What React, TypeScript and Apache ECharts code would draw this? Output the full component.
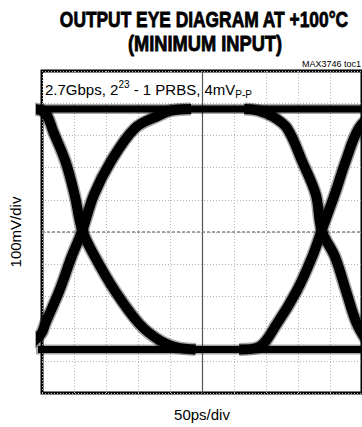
import React, { useEffect, useRef } from "react";
import * as echarts from "echarts";

// ---- texts ----
const TITLE_LINES = ["OUTPUT EYE DIAGRAM AT +100°C", "(MINIMUM INPUT)"];
const TOC_LABEL = "MAX3746 toc1";
const X_AXIS_NAME = "50ps/div";
const Y_AXIS_NAME = "100mV/div";
const CONDITION_MAIN = ["2.7Gbps, 2", " - 1 PRBS, 4mV"];
const CONDITION_SUP = "23";
const CONDITION_SUB = "P-P";

// ---- axes (ps horizontally, mV vertically) ----
const X_RANGE = [0, 500];
const X_DIV = 50;
const Y_RANGE = [-500, 500];
const Y_DIV = 100;
const CENTER_X = 250;
const CENTER_Y = 0;

// ---- eye traces: [ps, mV] ----
const topRail = [[-20, 382], [520, 382]];
const bottomRail = [[-20, -365], [520, -365]];

const fallLeft = [
  [-17, 383], [-1, 377], [8, 362], [17, 315], [37, 217], [51, 115], [63, 5],
  [83, -78], [114, -183], [152, -285], [184, -337], [210, -358], [240, -365],
];
const riseLeft = [
  [-17, -346], [-1, -315], [5, -285], [27, -183], [46, -78], [63, 5],
  [81, 115], [107, 217], [145, 322], [183, 362], [202, 377], [233, 382],
];
const fallRight = [
  [316, 382], [338, 377], [361, 358], [383, 322], [407, 217], [428, 115],
  [437, 5], [458, -78], [475, -183], [492, -285], [510, -346],
];
const riseRight = [
  [308, -365], [338, -358], [367, -285], [398, -183], [422, -78], [437, 5],
  [457, 115], [474, 217], [495, 322], [520, 371],
];

const SANS = "'Liberation Sans', Arial, sans-serif";

export default function App() {
  const ref = useRef<HTMLDivElement>(null);

  useEffect(() => {
    document.body.style.margin = "0";
    const chart = echarts.init(ref.current!, undefined, { renderer: "svg" });

    const traces = [topRail, bottomRail, fallLeft, riseLeft, fallRight, riseRight];
    const series: any[] = [];
    traces.forEach((d, i) => {
      const isRail = i < 2;
      series.push({
        type: "line",
        data: d,
        symbol: "none",
        smooth: isRail ? false : 0.35,
        silent: true,
        z: 2,
        lineStyle: { color: "rgba(0,0,0,0.35)", width: isRail ? 10 : 13 },
      });
      series.push({
        type: "line",
        data: d,
        symbol: "none",
        smooth: isRail ? false : 0.35,
        silent: true,
        z: 3,
        lineStyle: { color: "#000", width: isRail ? 7 : 10 },
      });
    });
    // centre graticule lines
    series.push({
      type: "line",
      data: [],
      silent: true,
      markLine: {
        silent: true,
        symbol: "none",
        label: { show: false },
        z: 1,
        data: [
          { xAxis: CENTER_X, lineStyle: { color: "#555", width: 1.2, type: "solid" } },
          { yAxis: CENTER_Y, lineStyle: { color: "#888", width: 1.5, type: [3, 2] } },
        ],
      },
    });

    chart.setOption({
      animation: false,
      backgroundColor: "#fff",
      grid: {
        left: 41,
        right: -9,
        top: 71,
        bottom: 32,
        show: true,
        borderColor: "#000",
        borderWidth: 3,
        backgroundColor: "transparent",
      },
      xAxis: {
        type: "value",
        min: X_RANGE[0],
        max: X_RANGE[1],
        interval: X_DIV,
        axisLine: { show: false },
        axisTick: { show: false },
        axisLabel: { show: false },
        splitLine: { show: true, lineStyle: { color: "#b5b5b5", width: 1, type: [1, 2] } },
        name: X_AXIS_NAME,
        nameLocation: "middle",
        nameGap: 14,
        nameTextStyle: { fontFamily: SANS, fontSize: 15, color: "#000" },
      },
      yAxis: {
        type: "value",
        min: Y_RANGE[0],
        max: Y_RANGE[1],
        interval: Y_DIV,
        axisLine: { show: false },
        axisTick: { show: false },
        axisLabel: { show: false },
        splitLine: { show: true, lineStyle: { color: "#b5b5b5", width: 1, type: [1, 2] } },
        name: Y_AXIS_NAME,
        nameLocation: "middle",
        nameGap: 19,
        nameRotate: 90,
        nameTextStyle: { fontFamily: SANS, fontSize: 15, color: "#000" },
      },
      graphic: [
        {
          type: "text",
          z: 10,
          x: 204,
          y: 19,
          scaleX: 0.79,
          style: {
            text: TITLE_LINES[0],
            fontFamily: SANS,
            fontWeight: "bold",
            fontSize: 22,
            textAlign: "center",
            verticalAlign: "middle",
            fill: "#000",
            stroke: "#000",
            lineWidth: 0.8,
          },
        },
        {
          type: "text",
          z: 10,
          x: 205,
          y: 43,
          scaleX: 0.83,
          style: {
            text: TITLE_LINES[1],
            fontFamily: SANS,
            fontWeight: "bold",
            fontSize: 22,
            textAlign: "center",
            verticalAlign: "middle",
            fill: "#000",
            stroke: "#000",
            lineWidth: 0.8,
          },
        },
        {
          type: "rect",
          z: 1,
          shape: { x: 43, y: 73, width: 205, height: 30 },
          style: { fill: "#fff" },
          silent: true,
        },
        {
          type: "text",
          z: 10,
          x: 45,
          y: 89,
          style: {
            text:
              "{a|" + CONDITION_MAIN[0] + "}{s|" + CONDITION_SUP + "}{a|" +
              CONDITION_MAIN[1] + "}{b|" + CONDITION_SUB + "}",
            verticalAlign: "middle",
            fill: "#000",
            rich: {
              a: { fontFamily: SANS, fontSize: 15, lineHeight: 20, fill: "#000" },
              s: { fontFamily: SANS, fontSize: 10, lineHeight: 10, verticalAlign: "top", fill: "#000" },
              b: { fontFamily: SANS, fontSize: 10, lineHeight: 10, verticalAlign: "bottom", fill: "#000" },
            },
          },
        },
        {
          type: "text",
          z: 10,
          x: 361,
          y: 64,
          style: {
            text: TOC_LABEL,
            fontFamily: SANS,
            fontSize: 9,
            fill: "#000",
            textAlign: "right",
            verticalAlign: "middle",
          },
        },
      ],
      series,
    });

    return () => chart.dispose();
  }, []);

  return (
    <div
      ref={ref}
      style={{ position: "absolute", left: 0, top: 0, width: 362, height: 427 }}
    />
  );
}
